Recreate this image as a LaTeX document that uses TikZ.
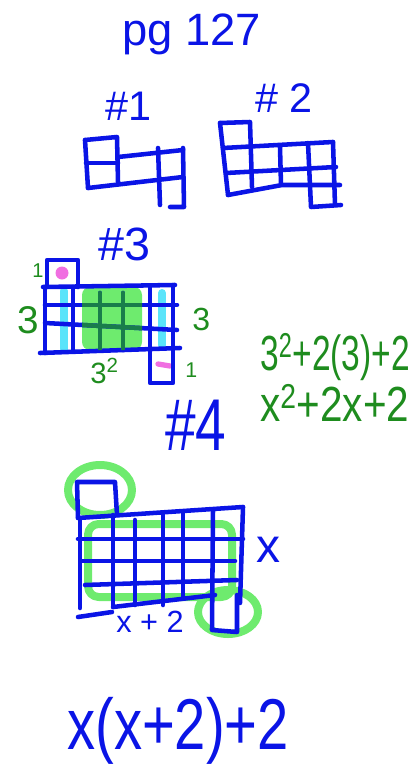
\documentclass[tikz,border=0pt]{standalone}
\usepackage{fontspec}
\setmainfont{Liberation Sans}
\definecolor{penblue}{RGB}{10,20,230}
\definecolor{pengreen}{RGB}{30,140,30}
\definecolor{hlgreen}{RGB}{110,235,110}
\definecolor{hlcyan}{RGB}{90,228,250}
\definecolor{hlpink}{RGB}{240,110,225}
\definecolor{darkgrid}{RGB}{25,125,75}
\newcommand{\squeeze}[2]{\scalebox{#1}[1]{#2}}

\begin{document}
\begin{tikzpicture}[
  x=0.75pt, y=-0.75pt,
  pen/.style={draw=penblue, line width=3.4pt, line cap=round, line join=round},
  hl/.style={line width=6pt, line cap=round, line join=round},
  lbl/.style={anchor=base west, inner sep=0pt, text=penblue},
  glbl/.style={anchor=base west, inner sep=0pt, text=pengreen}
]
\useasboundingbox (0,0) rectangle (417,767);

\node[lbl, font=\fontsize{34}{34}\selectfont] (title) at (122,46) {pg 127};

% #1
\node[lbl, font=\fontsize{31}{31}\selectfont] (p1) at (105,120) {\#1};
\draw[pen] (85,140) -- (117,137) -- (118,182);
\draw[pen] (85,140) -- (88,188);
\draw[pen] (86,163) -- (118,163);
\draw[pen] (118,157) -- (183,150);
\draw[pen] (88,188) -- (183,177);
\draw[pen] (158,148) -- (160,205);
\draw[pen] (183,148) -- (184,207) -- (170,207);

% #2
\node[lbl, font=\fontsize{31}{31}\selectfont] (p2) at (255,113) {\# 2};
\draw[pen] (220,123) -- (250,122) -- (252,187);
\draw[pen] (220,123) -- (228,195);
\draw[pen] (223,148) -- (333,142);
\draw[pen] (226,173) -- (336,167);
\draw[pen] (228,195) -- (282,185) -- (340,185);
\draw[pen] (280,147) -- (281,185);
\draw[pen] (308,143) -- (311,207) -- (341,205);
\draw[pen] (333,142) -- (335,205);

% #3
\node[lbl, font=\fontsize{35}{35}\selectfont] (p3) at (98,260) {\#3};
\fill[hlgreen, rounded corners=6pt] (82,287) rectangle (142,350);
\draw[hl, hlcyan] (64,291) -- (64,349);
\draw[hl, hlcyan] (162,293) -- (162,345);
\fill[hlpink] (62,273) circle [radius=6.5];
\draw[hlpink, line width=4pt, line cap=round] (158,364) -- (170,366);
\draw[pen] (47,287) -- (47,260) -- (78,260) -- (78,287);
\draw[pen] (43,287) -- (175,285);
\draw[pen] (45,287) -- (45,353);
\draw[pen] (45,305) -- (177,305);
\draw[pen] (45,323) -- (177,330);
\draw[pen] (40,353) -- (180,348);
\draw[pen] (73,287) -- (73,350);
\draw[pen] (100,293) -- (100,350);
\draw[pen] (123,293) -- (123,350);
\draw[pen] (150,287) -- (150,383) -- (173,383) -- (173,285);
\begin{scope}
  \clip[rounded corners=6pt] (82,287) rectangle (142,350);
  \draw[pen, draw=darkgrid] (100,293) -- (100,350);
  \draw[pen, draw=darkgrid] (123,293) -- (123,350);
  \draw[pen, draw=darkgrid] (45,305) -- (177,305);
  \draw[pen, draw=darkgrid] (45,323) -- (177,330);
\end{scope}
\node[glbl, font=\fontsize{15}{15}\selectfont] (one1) at (32,277) {1};
\node[glbl, font=\fontsize{29}{29}\selectfont] (three1) at (17,333) {3};
\node[glbl, font=\fontsize{24}{24}\selectfont] (three2) at (192,330) {3};
\node[glbl, font=\fontsize{22}{22}\selectfont] (threesq) at (90,383) {3\textsuperscript{2}};
\node[glbl, font=\fontsize{16}{16}\selectfont] (one2) at (185,377) {1};

\node[glbl, font=\fontsize{37}{37}\selectfont] (expr1) at (260,370) {\squeeze{0.68}{3\textsuperscript{2}+2(3)+2}};
\node[glbl, font=\fontsize{37}{37}\selectfont] (expr2) at (260,421) {\squeeze{0.82}{x\textsuperscript{2}+2x+2}};

% #4
\node[lbl, font=\fontsize{55}{55}\selectfont] (p4) at (165,450) {\squeeze{0.75}{\#4}};
\draw[hl, hlgreen] (100,490) ellipse [x radius=32, y radius=25];
\draw[hl, hlgreen] (228,612) ellipse [x radius=30, y radius=22];
\draw[hl, hlgreen, rounded corners=8pt] (88,524) rectangle (232,597);
\draw[pen] (78,518) -- (77,482) -- (115,482) -- (117,515);
\draw[pen] (78,518) -- (243,507);
\draw[pen] (78,539) -- (243,539);
\draw[pen] (82,561) -- (235,561);
\draw[pen] (85,585) -- (237,580);
\draw[pen] (113,607) -- (215,595);
\draw[pen] (78,617) -- (112,612);
\draw[pen] (80,518) -- (80,608);
\draw[pen] (113,515) -- (113,607);
\draw[pen] (135,520) -- (135,605);
\draw[pen] (163,513) -- (163,605);
\draw[pen] (183,513) -- (183,597);
\draw[pen] (213,510) -- (212,630) -- (237,632) -- (237,595);
\draw[pen] (243,507) -- (240,603);
\node[lbl, font=\fontsize{36}{36}\selectfont] (xlbl) at (256,562) {x};
\node[lbl, font=\fontsize{23}{23}\selectfont] (xp2) at (116,632) {x + 2};

\node[lbl, font=\fontsize{54}{54}\selectfont] (answer) at (67,749) {\squeeze{0.78}{x(x+2)+2}};
\end{tikzpicture}
\end{document}
